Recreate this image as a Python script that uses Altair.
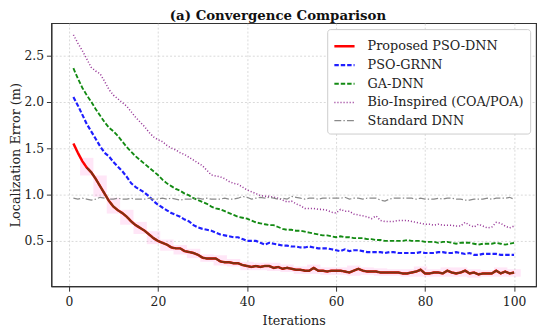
import altair as alt
import pandas as pd

iterations = list(range(1, 101))

proposed = [1.55, 1.45, 1.36, 1.29, 1.24, 1.17, 1.09, 1.01, 0.93, 0.87,
            0.83, 0.80, 0.76, 0.71, 0.67, 0.64, 0.61, 0.57, 0.53, 0.50,
            0.48, 0.46, 0.43, 0.42, 0.42, 0.39, 0.38, 0.37, 0.35, 0.32,
            0.31, 0.31, 0.31, 0.28, 0.27, 0.27, 0.26, 0.26, 0.24, 0.23,
            0.22, 0.23, 0.22, 0.23, 0.23, 0.21, 0.22, 0.20, 0.21, 0.20,
            0.19, 0.19, 0.18, 0.18, 0.21, 0.18, 0.18, 0.17, 0.18, 0.18,
            0.18, 0.17, 0.16, 0.18, 0.20, 0.18, 0.17, 0.17, 0.17, 0.16,
            0.16, 0.16, 0.16, 0.16, 0.15, 0.15, 0.16, 0.17, 0.19, 0.15,
            0.15, 0.16, 0.16, 0.15, 0.18, 0.16, 0.15, 0.16, 0.18, 0.15,
            0.16, 0.14, 0.15, 0.15, 0.15, 0.18, 0.15, 0.17, 0.15, 0.16]

pso_grnn = [2.05, 1.96, 1.86, 1.76, 1.68, 1.60, 1.52, 1.45, 1.41, 1.35,
            1.30, 1.25, 1.19, 1.12, 1.08, 1.05, 1.02, 0.98, 0.93, 0.89,
            0.86, 0.83, 0.80, 0.78, 0.76, 0.73, 0.71, 0.67, 0.645, 0.63,
            0.62, 0.61, 0.59, 0.57, 0.56, 0.55, 0.54, 0.54, 0.52, 0.50,
            0.50, 0.50, 0.48, 0.46, 0.48, 0.47, 0.46, 0.45, 0.45, 0.44,
            0.44, 0.43, 0.43, 0.44, 0.43, 0.42, 0.42, 0.42, 0.41, 0.40,
            0.39, 0.41, 0.39, 0.40, 0.40, 0.39, 0.38, 0.38, 0.38, 0.38,
            0.37, 0.38, 0.38, 0.37, 0.37, 0.37, 0.37, 0.37, 0.38, 0.37,
            0.37, 0.37, 0.38, 0.38, 0.37, 0.37, 0.38, 0.37, 0.36, 0.37,
            0.35, 0.35, 0.36, 0.36, 0.36, 0.36, 0.35, 0.35, 0.35, 0.35]

ga_dnn = [2.36, 2.25, 2.15, 2.07, 2.00, 1.92, 1.85, 1.78, 1.72, 1.68,
          1.63, 1.57, 1.51, 1.46, 1.41, 1.37, 1.33, 1.29, 1.25, 1.21,
          1.16, 1.12, 1.09, 1.06, 1.04, 1.01, 0.99, 0.96, 0.94, 0.92,
          0.90, 0.87, 0.85, 0.84, 0.82, 0.80, 0.78, 0.76, 0.75, 0.74,
          0.72, 0.70, 0.69, 0.68, 0.67, 0.67, 0.65, 0.63, 0.62, 0.62,
          0.61, 0.61, 0.60, 0.59, 0.58, 0.57, 0.56, 0.56, 0.55, 0.54,
          0.55, 0.54, 0.54, 0.53, 0.53, 0.53, 0.52, 0.52, 0.51, 0.51,
          0.50, 0.50, 0.50, 0.50, 0.50, 0.51, 0.50, 0.50, 0.50, 0.49,
          0.49, 0.49, 0.48, 0.49, 0.49, 0.48, 0.47, 0.48, 0.48, 0.48,
          0.47, 0.46, 0.47, 0.47, 0.47, 0.48, 0.47, 0.46, 0.47, 0.48]

bio_inspired = [2.72, 2.63, 2.55, 2.46, 2.37, 2.33, 2.30, 2.22, 2.13, 2.07,
                2.03, 1.99, 1.95, 1.89, 1.83, 1.78, 1.73, 1.67, 1.62, 1.59,
                1.57, 1.53, 1.50, 1.48, 1.45, 1.43, 1.40, 1.37, 1.34, 1.31,
                1.26, 1.21, 1.20, 1.19, 1.17, 1.14, 1.12, 1.11, 1.08, 1.05,
                1.03, 1.01, 0.99, 0.98, 0.98, 0.97, 0.96, 0.94, 0.92, 0.93,
                0.90, 0.88, 0.85, 0.85, 0.85, 0.84, 0.84, 0.83, 0.81, 0.80,
                0.84, 0.82, 0.82, 0.79, 0.78, 0.77, 0.76, 0.74, 0.77, 0.72,
                0.71, 0.71, 0.71, 0.72, 0.72, 0.72, 0.71, 0.70, 0.69, 0.68,
                0.68, 0.67, 0.68, 0.67, 0.67, 0.67, 0.66, 0.66, 0.70, 0.67,
                0.65, 0.68, 0.66, 0.64, 0.65, 0.70, 0.69, 0.66, 0.64, 0.66]

standard_dnn = [0.96, 0.95, 0.96, 0.95, 0.94, 0.95, 0.97, 0.96, 0.95, 0.95,
                0.96, 0.95, 0.95, 0.96, 0.95, 0.95, 0.95, 0.96, 0.95, 0.95,
                0.96, 0.95, 0.96, 0.95, 0.94, 0.95, 0.95, 0.95, 0.96, 0.95,
                0.96, 0.95, 0.95, 0.95, 0.96, 0.95, 0.95, 0.96, 0.98, 0.97,
                0.95, 0.96, 0.97, 0.96, 0.97, 0.96, 0.95, 0.96, 0.95, 0.98,
                0.97, 0.96, 0.95, 0.96, 0.96, 0.95, 0.96, 0.96, 0.96, 0.96,
                0.96, 0.97, 0.95, 0.96, 0.96, 0.95, 0.96, 0.96, 0.96, 0.94,
                0.93, 0.95, 0.96, 0.96, 0.96, 0.96, 0.96, 0.95, 0.96, 0.95,
                0.95, 0.95, 0.96, 0.95, 0.96, 0.96, 0.95, 0.95, 0.94, 0.94,
                0.95, 0.95, 0.95, 0.96, 0.95, 0.96, 0.96, 0.96, 0.97, 0.95]

series_names = ["Proposed PSO-DNN", "PSO-GRNN", "GA-DNN",
                "Bio-Inspired (COA/POA)", "Standard DNN"]
series_values = [proposed, pso_grnn, ga_dnn, bio_inspired, standard_dnn]

colors = ["#ff0000", "#1f1fff", "#138a13", "#9a3c9a", "#8a8a8a"]
dashes = [[1, 0], [4.5, 2], [4.5, 2], [1.1, 2.0], [7, 2.2, 1.4, 2.2]]
widths = [2.5, 1.25, 1.25, 1.2, 1.2]

rows = []
for name, vals in zip(series_names, series_values):
    for it, v in zip(iterations, vals):
        rows.append({"Iteration": it, "Error": v, "Method": name})
df = pd.DataFrame(rows)

overlay_df = pd.DataFrame({"Iteration": iterations[3:], "Error": proposed[3:]})

# pink band blocks around the proposed line (3 iterations each)
blocks = []
for start in range(3, 101, 3):
    seg = proposed[start - 1:start + 2]
    blocks.append({"x": start - 0.5, "x2": start + 2.5,
                   "lo": min(seg) - 0.035, "hi": max(seg) + 0.035})
band_df = pd.DataFrame(blocks)

FONT = "DejaVu Serif"
x_scale = alt.Scale(domain=[-3.95, 104.95], nice=False, zero=False)
y_scale = alt.Scale(domain=[0.012, 2.845], nice=False, zero=False)

x_axis = alt.Axis(values=[0, 20, 40, 60, 80, 100], title="Iterations",
                  grid=True, gridDash=[2, 2], gridColor="#d0d0d0", gridWidth=0.8,
                  tickSize=5, labelPadding=5, titlePadding=6)
y_axis = alt.Axis(values=[0.5, 1.0, 1.5, 2.0, 2.5], format=".1f",
                  title="Localization Error (m)",
                  grid=True, gridDash=[2, 2], gridColor="#d0d0d0", gridWidth=0.8,
                  tickSize=5, labelPadding=3, titlePadding=1)

band = alt.Chart(band_df).mark_rect(color="#ff66cc", opacity=0.16).encode(
    x=alt.X("x:Q", scale=x_scale, axis=x_axis),
    x2="x2:Q",
    y=alt.Y("lo:Q", scale=y_scale, axis=y_axis),
    y2="hi:Q",
)

lines = alt.Chart(df).mark_line(strokeCap="butt").encode(
    x=alt.X("Iteration:Q", scale=x_scale, axis=x_axis),
    y=alt.Y("Error:Q", scale=y_scale, axis=y_axis),
    color=alt.Color("Method:N", sort=series_names,
                    scale=alt.Scale(domain=series_names, range=colors),
                    legend=alt.Legend(title=None)),
    strokeDash=alt.StrokeDash("Method:N", sort=series_names,
                              scale=alt.Scale(domain=series_names, range=dashes),
                              legend=alt.Legend(title=None)),
    strokeWidth=alt.StrokeWidth("Method:N", sort=series_names,
                                scale=alt.Scale(domain=series_names, range=widths),
                                legend=alt.Legend(title=None)),
    order=alt.Order("Iteration:Q"),
    detail="Method:N",
)

overlay = alt.Chart(overlay_df).mark_line(color="#7d3311", strokeWidth=2.0).encode(
    x=alt.X("Iteration:Q", scale=x_scale),
    y=alt.Y("Error:Q", scale=y_scale),
)

chart = alt.layer(band, lines, overlay).properties(
    width=492, height=267,
    autosize=alt.AutoSizeParams(type="none"),
    padding={"left": 44, "top": 13, "right": 6, "bottom": 43},
    title=alt.TitleParams("(a) Convergence Comparison", font=FONT, fontSize=13.5,
                          fontWeight="bold", anchor="middle", dx=-16, offset=1,
                          color="#111111"),
).configure_view(
    stroke="#333333", strokeWidth=1.2
).configure_axis(
    labelFont=FONT, titleFont=FONT, labelFontSize=12.5, titleFontSize=13,
    titleFontWeight="normal", labelColor="#222222", titleColor="#222222",
    domainColor="#333333", domainWidth=1.2, tickColor="#333333",
).configure_legend(
    orient="top-right", offset=6, labelFont=FONT, labelFontSize=13,
    labelColor="#222222", symbolType="stroke", symbolSize=420,
    fillColor="white", strokeColor="#cccccc", cornerRadius=3, padding=6,
    rowPadding=0, labelOffset=12, symbolStrokeWidth=1.3,
)

chart.save("out.html", embed_options={"renderer": "svg", "actions": False})
